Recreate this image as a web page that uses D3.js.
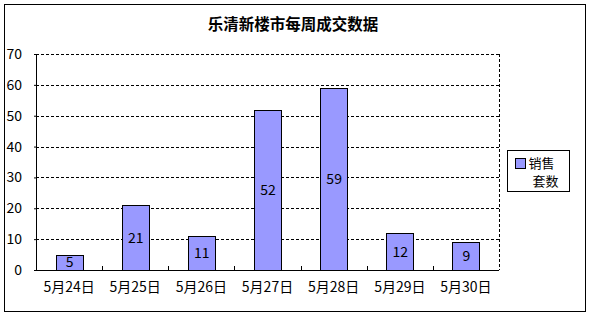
<!DOCTYPE html>
<html>
<head>
<meta charset="utf-8">
<script src="https://cdn.jsdelivr.net/npm/d3@7"></script>
<style>
  body { margin: 0; background: #fff; }
  text { font-family: "Noto Sans CJK SC", "DejaVu Sans", sans-serif; }
</style>
</head>
<body>
<div id="chart"></div>
<script>
// chart data
const categories = ["5月24日", "5月25日", "5月26日", "5月27日", "5月28日", "5月29日", "5月30日"];
const sales = [5, 21, 11, 52, 59, 12, 9];
const yTicks = [0, 10, 20, 30, 40, 50, 60, 70];
const chartTitle = "乐清新楼市每周成交数据";
const legendLines = ["销售", "套数"];

const W = 589, H = 316;
const margin = { top: 54, right: 90, bottom: 46, left: 36 };
const width = W - margin.left - margin.right;
const height = H - margin.top - margin.bottom;

const svg = d3.select("#chart")
    .append("svg")
    .attr("width", W)
    .attr("height", H);

// outer frame
svg.append("rect")
    .attr("x", 4.5).attr("y", 4.5)
    .attr("width", 581).attr("height", 307)
    .attr("fill", "#fff")
    .attr("stroke", "#000")
    .attr("stroke-width", 1);

svg.append("text")
    .attr("x", 293)
    .attr("y", 30)
    .attr("text-anchor", "middle")
    .attr("font-size", 15.5)
    .attr("font-weight", "bold")
    .text(chartTitle);

const g = svg.append("g")
    .attr("transform", `translate(${margin.left},${margin.top})`);

const x = d3.scaleBand()
    .domain(categories)
    .range([0, width])
    .paddingInner(0.59)
    .paddingOuter(0.295);

const xEdge = d3.scaleBand()
    .domain(categories)
    .range([0, width]);

const y = d3.scaleLinear()
    .domain([0, 70])
    .range([height, 0]);

// dashed grid lines
g.selectAll(".grid")
    .data(yTicks.filter(d => d > 0))
    .enter().append("line")
    .attr("class", "grid")
    .attr("x1", 0)
    .attr("x2", width)
    .attr("y1", d => Math.round(y(d)) + 0.5)
    .attr("y2", d => Math.round(y(d)) + 0.5)
    .attr("stroke", "#000")
    .attr("stroke-dasharray", "3,2");

// right dashed border of plot area
g.append("line")
    .attr("x1", width + 0.5).attr("x2", width + 0.5)
    .attr("y1", 0).attr("y2", height)
    .attr("stroke", "#000")
    .attr("stroke-dasharray", "3,2");

// bars
g.selectAll(".bar")
    .data(sales)
    .enter().append("rect")
    .attr("class", "bar")
    .attr("x", (d, i) => Math.round(x(categories[i])) + 0.5)
    .attr("y", d => Math.round(y(d)) + 0.5)
    .attr("width", Math.round(x.bandwidth()))
    .attr("height", d => height - Math.round(y(d)))
    .attr("fill", "#9999ff")
    .attr("stroke", "#000");

// value labels in the middle of each bar
g.selectAll(".val")
    .data(sales)
    .enter().append("text")
    .attr("class", "val")
    .attr("x", (d, i) => x(categories[i]) + x.bandwidth() / 2 + 0.5)
    .attr("y", d => (y(d) + height) / 2)
    .attr("dy", "0.36em")
    .attr("text-anchor", "middle")
    .attr("font-size", 14)
    .text(d => d);

// axes
const yAxis = g.append("g")
    .call(d3.axisLeft(y).tickValues(yTicks).tickSize(2).tickPadding(12));
yAxis.select(".domain").attr("d", `M0.5,0V${height}`);
yAxis.selectAll("text").attr("font-size", 14).attr("font-family", "\"Noto Sans CJK SC\", sans-serif");

const xAxis = g.append("g")
    .attr("transform", `translate(0,${height})`)
    .call(d3.axisBottom(xEdge).tickSize(0).tickPadding(12));
xAxis.select(".domain").attr("d", `M0,0.5H${width}`).attr("stroke-width", 1);
xAxis.selectAll("text").attr("font-size", 14).attr("font-family", "\"Noto Sans CJK SC\", sans-serif");

// inward ticks at category boundaries
g.selectAll(".xtick")
    .data(categories.slice(1))
    .enter().append("line")
    .attr("class", "xtick")
    .attr("x1", d => Math.round(xEdge(d)) + 0.5)
    .attr("x2", d => Math.round(xEdge(d)) + 0.5)
    .attr("y1", height)
    .attr("y2", height - 4)
    .attr("stroke", "#000");

// legend
const legend = svg.append("g").attr("transform", "translate(507.5,150.5)");
legend.append("rect")
    .attr("width", 62).attr("height", 41)
    .attr("fill", "#fff").attr("stroke", "#000");
legend.append("rect")
    .attr("x", 8).attr("y", 8)
    .attr("width", 10).attr("height", 10)
    .attr("fill", "#9999ff").attr("stroke", "#000");
legend.selectAll(".lg")
    .data(legendLines)
    .enter().append("text")
    .attr("class", "lg")
    .attr("x", (d, i) => 21 + i * 4)
    .attr("y", (d, i) => 17 + i * 18)
    .attr("font-size", 13)
    .text(d => d);
</script>
</body>
</html>
